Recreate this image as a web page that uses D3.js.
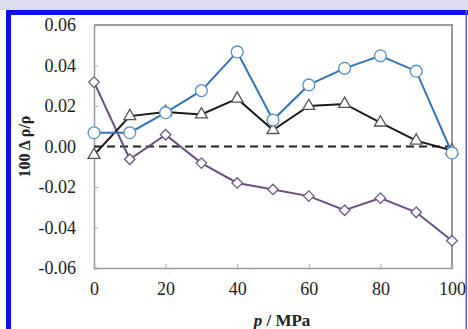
<!DOCTYPE html>
<html>
<head>
<meta charset="utf-8">
<script src="https://cdn.jsdelivr.net/npm/d3@7"></script>
<style>
	body { margin: 0; background: #fff; }
	svg { display: block; }
	text { font-family: "Liberation Serif", "DejaVu Serif", serif; fill: #222; }
</style>
</head>
<body>
<svg></svg>
<script>
const pressures = [0, 10, 20, 30, 40, 50, 60, 70, 80, 90, 100];
const blueDev = [0.0068, 0.0068, 0.0167, 0.0276, 0.0467, 0.0131, 0.0304, 0.0386, 0.0448, 0.0372, -0.0032];
const blackDev = [-0.0042, 0.0150, 0.0170, 0.0158, 0.0236, 0.0081, 0.0200, 0.0210, 0.0118, 0.0029, -0.0020];
const purpleDev = [0.0318, -0.0063, 0.0058, -0.0082, -0.0180, -0.0212, -0.0245, -0.0315, -0.0255, -0.0325, -0.0465];
const yTicks = [-0.06, -0.04, -0.02, 0, 0.02, 0.04, 0.06];
const xTicks = [0, 20, 40, 60, 80, 100];

const svg = d3.select("svg");
svg.attr("width", 468).attr("height", 329);

// page frame
svg.append("rect").attr("x", 0).attr("y", 0).attr("width", 468).attr("height", 10).attr("fill", "#dcdcee");
svg.append("rect").attr("x", 6).attr("y", 10).attr("width", 462).attr("height", 5).attr("fill", "#0a10f0");
svg.append("rect").attr("x", 6).attr("y", 10).attr("width", 5).attr("height", 319).attr("fill", "#0a10f0");
svg.append("rect").attr("x", 465.5).attr("y", 10).attr("width", 1.5).attr("height", 319).attr("fill", "#5a5cf0");

const plotL = 94, plotR = 452, plotT = 25, plotB = 268;

const x = d3.scaleLinear().domain([0, 100]).range([plotL, plotR]);
const y = d3.scaleLinear().domain([-0.06, 0.06]).range([plotB, plotT]);

// plot frame (top/right)
svg.append("path")
	.attr("d", `M${plotL},${plotT}H${plotR}V${plotB}`)
	.attr("fill", "none")
	.attr("stroke", "#9a9a9a")
	.attr("stroke-width", 2);

const yAxis = d3.axisLeft(y).tickValues(yTicks).tickSize(-4).tickPadding(18)
	.tickFormat((d) => d3.format(".2f")(d).replace("−", "-"));
const xAxis = d3.axisBottom(x).tickValues(xTicks).tickSize(-4).tickPadding(14)
	.tickFormat(d3.format("d"));

const gy = svg.append("g").attr("transform", `translate(${plotL},0)`).call(yAxis);
const gx = svg.append("g").attr("transform", `translate(0,${plotB})`).call(xAxis);
[gy, gx].forEach((g) => {
	g.select(".domain").attr("stroke", "#9a9a9a").attr("stroke-width", 1.5);
	g.selectAll(".tick line").attr("stroke", "#aaa");
	g.selectAll(".tick text").attr("font-size", 18).attr("font-family", "Liberation Serif").attr("fill", "#333");
});

// zero line
svg.append("line")
	.attr("x1", x(0)).attr("x2", x(100))
	.attr("y1", y(0)).attr("y2", y(0))
	.attr("stroke", "#222")
	.attr("stroke-width", 2)
	.attr("stroke-dasharray", "8,5");

const line = d3.line().x((d, i) => x(pressures[i])).y((d) => y(d));

function drawSeries(values, lineColor, markerColor, shape, size) {
	svg.append("path")
		.attr("d", line(values))
		.attr("fill", "none")
		.attr("stroke", lineColor)
		.attr("stroke-width", 2);
	svg.append("g").selectAll("path").data(values).enter().append("path")
		.attr("transform", (d, i) => `translate(${x(pressures[i])},${y(d)})`)
		.attr("d", d3.symbol().type(shape).size(size))
		.attr("fill", "#fff")
		.attr("stroke", markerColor)
		.attr("stroke-width", 1.3);
}

drawSeries(purpleDev, "#6a4f82", "#6a5a82", d3.symbolDiamond2, 70);
drawSeries(blackDev, "#1a1a1a", "#555", d3.symbolTriangle2, 100);
drawSeries(blueDev, "#3375b5", "#5590c8", d3.symbolCircle, 110);

// axis titles
const xt = svg.append("text")
	.attr("x", 282).attr("y", 326)
	.attr("text-anchor", "middle")
	.attr("font-size", 17).attr("font-weight", "bold");
xt.append("tspan").attr("font-style", "italic").text("p");
xt.append("tspan").text(" / MPa");

svg.append("text")
	.attr("transform", `translate(30,${y(0)}) rotate(-90)`)
	.attr("text-anchor", "middle")
	.attr("font-size", 16).attr("font-weight", "bold")
	.text("100 Δ ρ/ρ");
</script>
</body>
</html>
